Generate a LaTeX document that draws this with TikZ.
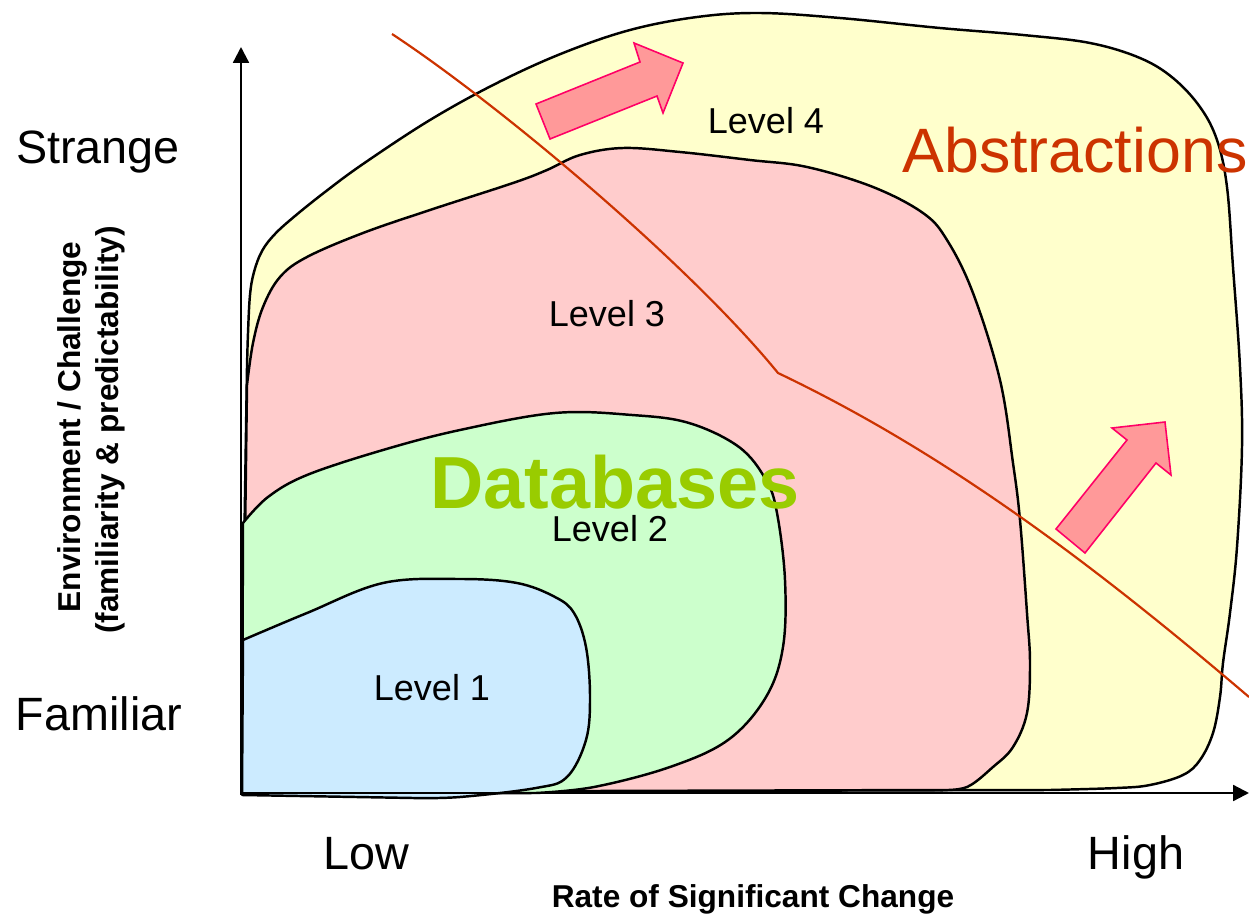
\documentclass[tikz,border=0pt]{standalone}
\usepackage{fontspec}
\setmainfont{Liberation Sans}
\usetikzlibrary{arrows.meta}
\definecolor{lvlyellow}{HTML}{FFFFCC}
\definecolor{lvlpink}{HTML}{FFCCCC}
\definecolor{lvlgreen}{HTML}{CCFFCC}
\definecolor{lvlblue}{HTML}{CCEBFF}
\definecolor{rustred}{HTML}{CC3300}
\definecolor{limegreen}{HTML}{99CC00}
\definecolor{arrowfill}{HTML}{FF9999}
\definecolor{arrowedge}{HTML}{FF0066}
\begin{document}
\begin{tikzpicture}[x=0.02cm,y=-0.02cm,
  region/.style={draw=black,line width=1.4pt,line join=round},
  bigarrow/.style={fill=arrowfill,draw=arrowedge,line width=0.9pt,line join=miter},
  axisline/.style={line width=1.3pt,-{Triangle[length=9pt,width=9pt]}},
  boundary/.style={draw=rustred,line width=1.25pt},
  levellabel/.style={font=\fontsize{20.5}{24}\selectfont,anchor=base,inner sep=0pt},
  ticklabel/.style={font=\fontsize{26.6}{31}\selectfont,anchor=base,inner sep=0pt},
  axislabel/.style={font=\bfseries\fontsize{18}{21}\selectfont,anchor=base,inner sep=0pt},
]
\useasboundingbox (0,0) rectangle (1249,916);

% Level 4 region
\filldraw[region,fill=lvlyellow] (242,792) -- (244,560) -- plot[smooth,tension=0.6] coordinates {
  (247,367) (248,333) (250,295) (254,272) (262,251) (275,234) (295,216) (325,192)
  (363,164) (430,120) (497,83) (563,53) (630,30) (697,17) (760,13) (840,18)
  (940,28) (1023,35) (1090,43) (1140,58) (1173,78) (1200,107) (1217,140)
  (1227,187) (1233,267) (1240,367) (1242,447) (1237,547) (1230,613) (1223,663)
  (1220,697) (1213,733) (1200,760) (1183,775) (1150,785) (1117,788) (1050,790)} -- cycle;

% Level 3 region
\filldraw[region,fill=lvlpink] (244,792) -- (245,540) -- plot[smooth,tension=0.6] coordinates {
  (247,385) (253,343) (263,307) (280,277) (307,257) (363,233) (430,210) (513,183)
  (547,170) (580,155) (623,148) (680,152) (750,160) (807,167) (873,187) (923,213)
  (947,240) (973,293) (1000,380) (1013,463) (1020,520) (1027,613) (1030,663)
  (1027,713) (1013,747) (993,767) (967,787) (940,790)} -- cycle;

% Level 2 region
\filldraw[region,fill=lvlgreen] (242,794) -- plot[smooth,tension=0.6] coordinates {
  (243,523) (268,497) (307,475) (383,450) (460,430) (555,413) (632,415) (689,423)
  (739,447) (766,480) (777,513) (785,580) (783,647) (766,697) (728,740) (670,767)
  (594,787) (536,793)} -- cycle;

% Level 1 region
\filldraw[region,fill=lvlblue] (242,795) -- plot[smooth,tension=0.6] coordinates {
  (243,640) (307,613) (383,583) (460,579) (517,583) (555,597) (574,613) (586,647)
  (590,697) (586,740) (567,777) (536,788) (460,797) (413,798)} -- cycle;

% direction-of-growth arrows
\filldraw[bigarrow] (536,104) -- (640,62) -- (634,43) -- (683,63) -- (663,113)
  -- (657,96) -- (550,139) -- cycle;
\filldraw[bigarrow] (1056,529) -- (1127,440) -- (1112,428) -- (1165,422)
  -- (1171,475) -- (1156,463) -- (1085,553) -- cycle;

% boundary between databases and abstractions
\coordinate (bstart) at (392,34);
\coordinate (bknee) at (778,373);
\coordinate (bend) at (1249,697);
\draw[boundary] (bstart) .. controls (500,105) and (690,265) .. (bknee)
  .. controls (950,455) and (1100,570) .. (bend);

% axes
\coordinate (origin) at (241,793);
\coordinate (ytip) at (241,47);
\coordinate (xtip) at (1249,793);
\draw[axisline] (241,795) -- (ytip);
\draw[axisline] (origin) -- (xtip);

% labels
\node[levellabel] (lvlfour) at (766,133) {Level 4};
\node[levellabel] (lvlthree) at (607,326) {Level 3};
\node[levellabel] (lvltwo) at (610,541) {Level 2};
\node[levellabel] (lvlone) at (432,700) {Level 1};
\node[font=\bfseries\fontsize{42}{48}\selectfont,text=limegreen,anchor=base,inner sep=0pt]
  (databases) at (615,508) {Databases};
\node[font=\fontsize{35.7}{42}\selectfont,text=rustred,anchor=base west,inner sep=0pt]
  (abstractions) at (902,172) {Abstractions};

\node[ticklabel] (strange) at (98,163) {Strange};
\node[ticklabel] (familiar) at (99,730) {Familiar};
\node[ticklabel] (low) at (366,869) {Low};
\node[ticklabel] (high) at (1136,869) {High};

\node[axislabel] (xlabel) at (753,907) {Rate of Significant Change};
\node[axislabel,rotate=90] (ylabelone) at (80,427) {Environment / Challenge};
\node[axislabel,rotate=90] (ylabeltwo) at (118,430) {(familiarity \& predictability)};
\end{tikzpicture}
\end{document}
